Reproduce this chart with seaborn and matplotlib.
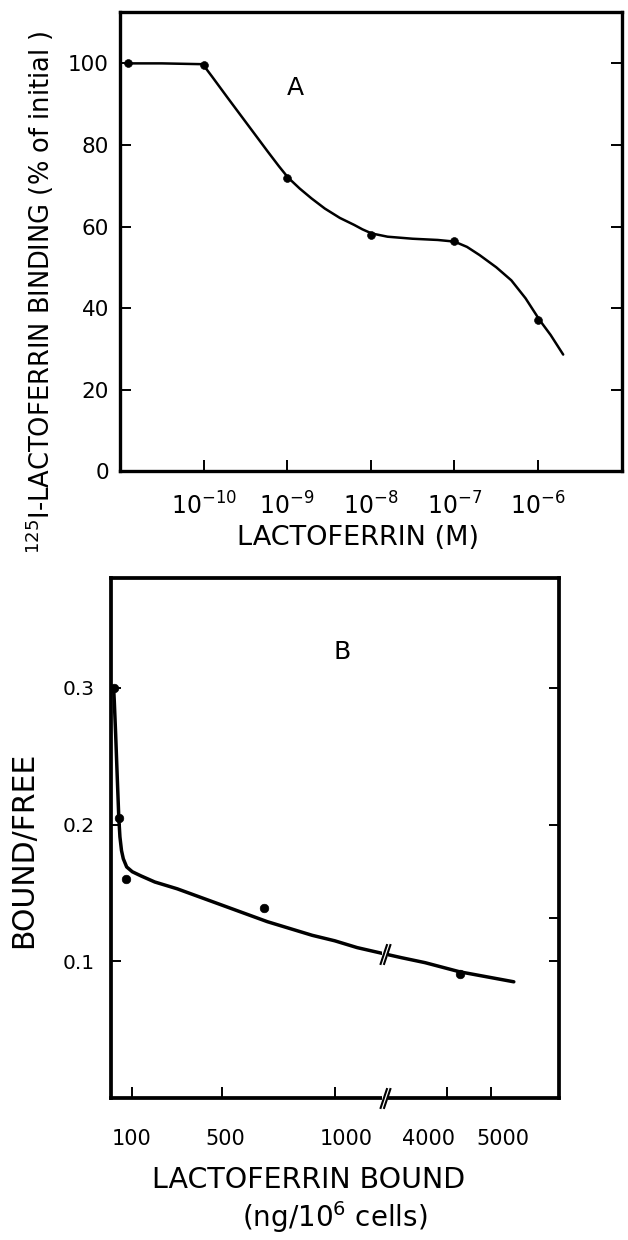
import numpy as np
import pandas as pd
import matplotlib
matplotlib.use("Agg")
import matplotlib.pyplot as plt
from matplotlib.path import Path
import seaborn as sns

# ---- panel A: 125I-lactoferrin binding vs lactoferrin (M), x as log10 exponent
a_point_exp = [-10.9, -10.0, -9.0, -8.0, -7.0, -6.0]
a_point_pct = [100.0, 99.5, 72.0, 58.0, 56.5, 37.0]
a_curve_exp = [-10.9, -10.5, -10.01, -9.9, -9.71, -9.47, -9.23, -9.1, -8.99,
               -8.85, -8.71, -8.55, -8.37, -8.2, -8.1, -7.99, -7.8, -7.5,
               -7.2, -7.0, -6.85, -6.7, -6.5, -6.32, -6.15, -5.98, -5.85, -5.70]
a_curve_pct = [100.0, 100.0, 99.8, 96.8, 91.5, 84.9, 78.3, 74.8, 72.0,
               69.3, 66.9, 64.4, 62.1, 60.4, 59.3, 58.3, 57.5, 57.0,
               56.7, 56.3, 55.0, 53.0, 50.0, 46.8, 42.4, 37.0, 33.4, 28.6]
a_yticks = [0, 20, 40, 60, 80, 100]
a_xtick_exp = [-10, -9, -8, -7, -6]

# ---- panel B: bound/free vs lactoferrin bound (ng/10^6 cells)
b_point_bound = [17, 43, 72, 685, 4290]
b_point_ratio = [0.300, 0.205, 0.160, 0.139, 0.091]
b_curve_bound = [17, 20, 26, 33, 40, 45, 52, 60, 75, 100, 138, 200, 300, 400,
                 500, 600, 700, 800, 900, 1000, 1100, 1206, 2967, 3500, 4290, 5522]
b_curve_ratio = [0.300, 0.290, 0.266, 0.235, 0.205, 0.191, 0.181, 0.175, 0.169,
                 0.1655, 0.1625, 0.158, 0.153, 0.147, 0.141, 0.135, 0.129, 0.124,
                 0.119, 0.115, 0.110, 0.106, 0.1026, 0.0990, 0.0923, 0.0850]
b_xticks = [100, 500, 1000, 4000, 5000]
b_xticklabels = ["100", "500", "1000", "4000", "5000"]
b_yticks = [0.1, 0.2, 0.3]

sns.set_style("ticks")
plt.rcParams["font.family"] = ["DejaVu Sans"]
plt.rcParams["mathtext.fontset"] = "dejavusans"
for key in ["text.color", "axes.edgecolor", "axes.labelcolor", "xtick.color", "ytick.color"]:
    plt.rcParams[key] = "black"

fig = plt.figure(figsize=(6.28, 12.4), dpi=100)
axA = fig.add_axes([0.191, 0.620, 0.799, 0.370])
axB = fig.add_axes([0.177, 0.1145, 0.713, 0.419])

# ---------------- panel A
dfA_curve = pd.DataFrame({"conc": 10.0 ** np.array(a_curve_exp), "pct": a_curve_pct})
dfA_pts = pd.DataFrame({"conc": 10.0 ** np.array(a_point_exp), "pct": a_point_pct})
sns.lineplot(data=dfA_curve, x="conc", y="pct", ax=axA, color="black",
             linewidth=1.8, estimator=None, sort=False)
sns.scatterplot(data=dfA_pts, x="conc", y="pct", ax=axA, color="black",
                s=32, edgecolor="black", zorder=5)
axA.set_xscale("log")
axA.set_xlim(1e-11, 1e-5)
axA.set_ylim(0, 112.5)
axA.set_xticks([10.0 ** e for e in a_xtick_exp])
axA.set_xticklabels([f"$10^{{{e}}}$" for e in a_xtick_exp], fontsize=17)
axA.xaxis.set_minor_locator(matplotlib.ticker.NullLocator())
axA.set_yticks(a_yticks)
axA.set_yticklabels([str(v) for v in a_yticks], fontsize=15.5)
axA.tick_params(axis="y", direction="in", length=8, width=1.4,
                left=True, right=True, pad=8)
axA.tick_params(axis="x", direction="in", length=8, width=1.4,
                bottom=True, top=False, pad=15)
axA.set_xlabel("LACTOFERRIN (M)", fontsize=19.5)
axA.xaxis.set_label_coords(0.474, -0.118)
axA.set_ylabel("$^{125}$I-LACTOFERRIN BINDING (% of initial )", fontsize=18.5)
axA.yaxis.set_label_coords(-0.128, 0.39)
axA.text(10 ** -8.9, 94, "A", fontsize=18, ha="center", va="center")
for sp in axA.spines.values():
    sp.set_linewidth(2.4)
    sp.set_visible(True)

# ---------------- panel B: broken linear axis
S1, S2, B1, B2, GAP = 0.2255, 0.044, 1222.0, 2590.0, 0.5


def fwd(x):
    x = np.asarray(x, dtype=float)
    pb = B1 * S1
    return np.where(x <= B1, x * S1,
                    np.where(x >= B2, pb + GAP + (x - B2) * S2,
                             pb + (x - B1) / (B2 - B1) * GAP))


def inv(p):
    p = np.asarray(p, dtype=float)
    pb = B1 * S1
    return np.where(p <= pb, p / S1,
                    np.where(p >= pb + GAP, B2 + (p - pb - GAP) / S2,
                             B1 + (p - pb) / GAP * (B2 - B1)))


dfB_curve = pd.DataFrame({"bound": b_curve_bound, "ratio": b_curve_ratio})
dfB_pts = pd.DataFrame({"bound": b_point_bound, "ratio": b_point_ratio})
axB.set_xscale("function", functions=(fwd, inv))
sns.lineplot(data=dfB_curve, x="bound", y="ratio", ax=axB, color="black",
             linewidth=2.5, estimator=None, sort=False)
sns.scatterplot(data=dfB_pts, x="bound", y="ratio", ax=axB, color="black",
                s=38, edgecolor="black", zorder=5)
axB.set_xlim(6, 6550)
axB.set_ylim(0, 0.38)

# tick marks at the values, labels drawn where the original lettering sits
label_pos = [95, 512, 1053, 3567, 5272]
axB.set_xticks(b_xticks)
axB.set_xticklabels([])
axB.set_xticks(label_pos, minor=True)
axB.set_xticklabels(b_xticklabels, minor=True, fontsize=15)
axB.tick_params(axis="x", which="major", direction="in", length=8, width=1.4,
                bottom=True, top=False)
axB.tick_params(axis="x", which="minor", length=0, pad=22)
axB.set_yticks(b_yticks)
axB.set_yticklabels(["0.1", "0.2", "0.3"], fontsize=14.5)
axB.set_yticks([0.132], minor=True)
axB.tick_params(axis="y", which="major", direction="in", length=7, width=1.4,
                left=True, right=True, pad=12)
axB.tick_params(axis="y", which="minor", direction="in", length=7, width=1.4,
                left=False, right=True)
axB.set_xlabel("")
axB.set_ylabel("BOUND/FREE", fontsize=21.5)
axB.yaxis.set_label_coords(-0.163, 0.477)
axB.text(0.44, -0.158, "LACTOFERRIN BOUND", transform=axB.transAxes,
         fontsize=20.5, ha="center", va="center")
axB.text(0.50, -0.229, "(ng/10$^6$ cells)", transform=axB.transAxes,
         fontsize=20, ha="center", va="center")
axB.text(1031, 0.326, "B", fontsize=18, ha="center", va="center")
for sp in axB.spines.values():
    sp.set_linewidth(2.7)
    sp.set_visible(True)

# break marks "//" on axis and curve
xb = (B1 + B2) / 2
slash = Path([(-3, -6), (1, 6), (-1, -6), (3, 6)],
             [Path.MOVETO, Path.LINETO, Path.MOVETO, Path.LINETO])
axB.plot([xb], [0], marker="s", markersize=5, color="white", markeredgewidth=0,
         clip_on=False, zorder=6)
axB.plot([xb], [0], marker=slash, markersize=15, color="black", markeredgewidth=1.5,
         linestyle="none", clip_on=False, zorder=7)
axB.plot([xb], [0.105], marker="s", markersize=4, color="white", markeredgewidth=0,
         zorder=6)
axB.plot([xb], [0.105], marker=slash, markersize=15, color="black", markeredgewidth=1.5,
         linestyle="none", zorder=7)

fig.savefig("out.png", dpi=100)
